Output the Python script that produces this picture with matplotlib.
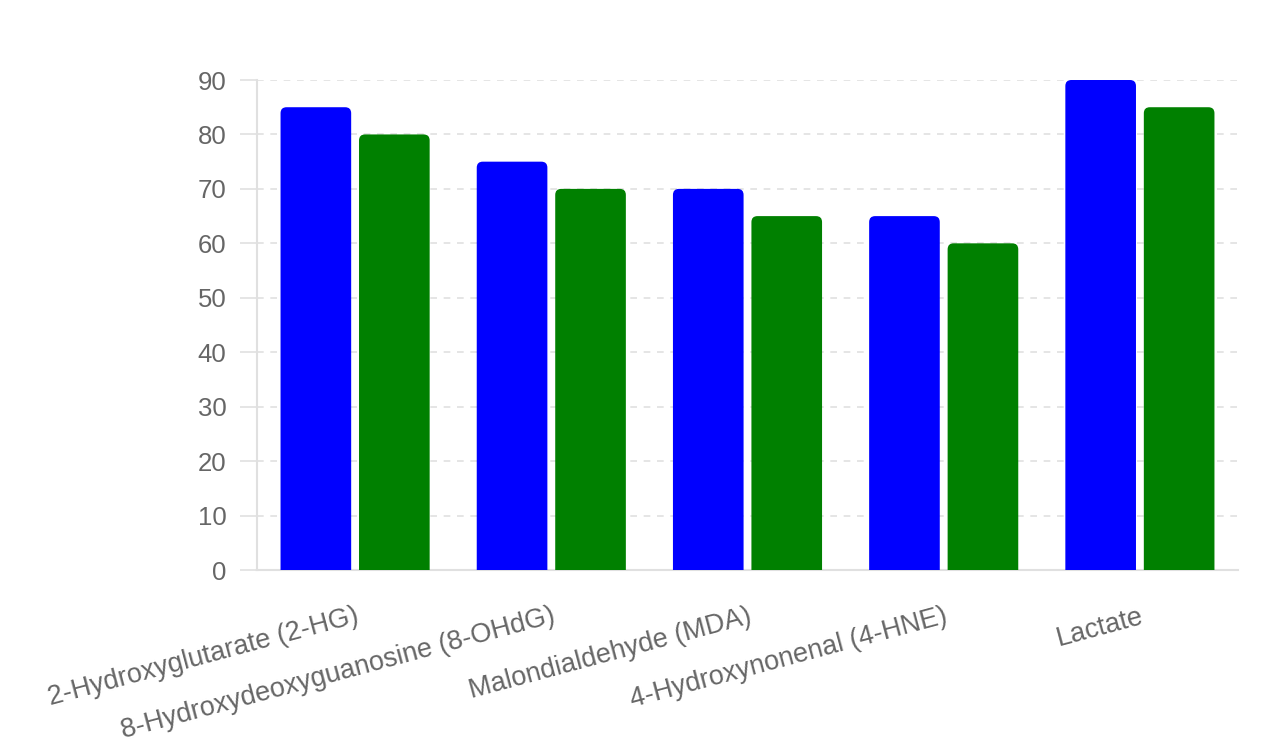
import matplotlib
matplotlib.use('Agg')
import matplotlib.pyplot as plt
import numpy as np
from matplotlib.patches import FancyBboxPatch

categories = ['2-Hydroxyglutarate (2-HG)', '8-Hydroxydeoxyguanosine (8-OHdG)',
              'Malondialdehyde (MDA)', '4-Hydroxynonenal (4-HNE)', 'Lactate']
series_a = [85, 75, 70, 65, 90]
series_b = [80, 70, 65, 60, 85]
y_ticks = [0, 10, 20, 30, 40, 50, 60, 70, 80, 90]

plt.rcParams['font.family'] = ['Liberation Sans', 'DejaVu Sans']

fig = plt.figure(figsize=(12.7, 7.45), dpi=100)
ax = fig.add_axes([257 / 1270, 1 - 570 / 745, (1238 - 257) / 1270, (570 - 80) / 745])

x = np.arange(len(categories))
width = 0.36
off = 0.2
bars_a = ax.bar(x - off, series_a, width, color='#0000ff', zorder=3)
bars_b = ax.bar(x + off, series_b, width, color='#008000', zorder=3)

ax.set_xlim(-0.5, len(categories) - 0.5)
ax.set_ylim(0, 90)

# swap plain bars for ones with rounded tops
px_x = (len(categories)) / (1238 - 257)
px_y = 90 / (570 - 80)
for bar in list(bars_a) + list(bars_b):
    bx, bw, bh = bar.get_x(), bar.get_width(), bar.get_height()
    fc = bar.get_facecolor()
    bar.set_visible(False)
    p = FancyBboxPatch((bx, -3), bw, bh + 3,
                       boxstyle='round,pad=0,rounding_size=%f' % (6 * px_x),
                       mutation_aspect=px_y / px_x,
                       fc=fc, ec='none', zorder=3, clip_on=True)
    ax.add_patch(p)

ax.set_yticks(y_ticks)
ax.set_xticks(x)
ax.set_xticklabels(categories, rotation=15, ha='right', va='top',
                   rotation_mode='anchor', fontsize=19.5, color='#666666')
ax.tick_params(axis='x', length=0, pad=24)
ax.tick_params(axis='y', length=12, color='#e0e0e0', width=1.2, pad=10,
               labelsize=18.5, labelcolor='#666666')

ax.grid(axis='y', color='#e0e0e0', linestyle=(0, (4, 4)), linewidth=1.2, zorder=0)
for s in ['top', 'right']:
    ax.spines[s].set_visible(False)
ax.spines['left'].set_color('#e0e0e0')
ax.spines['bottom'].set_color('#e0e0e0')
ax.spines['left'].set_linewidth(1.5)
ax.spines['bottom'].set_linewidth(1.5)

fig.savefig('out.png', dpi=100)
